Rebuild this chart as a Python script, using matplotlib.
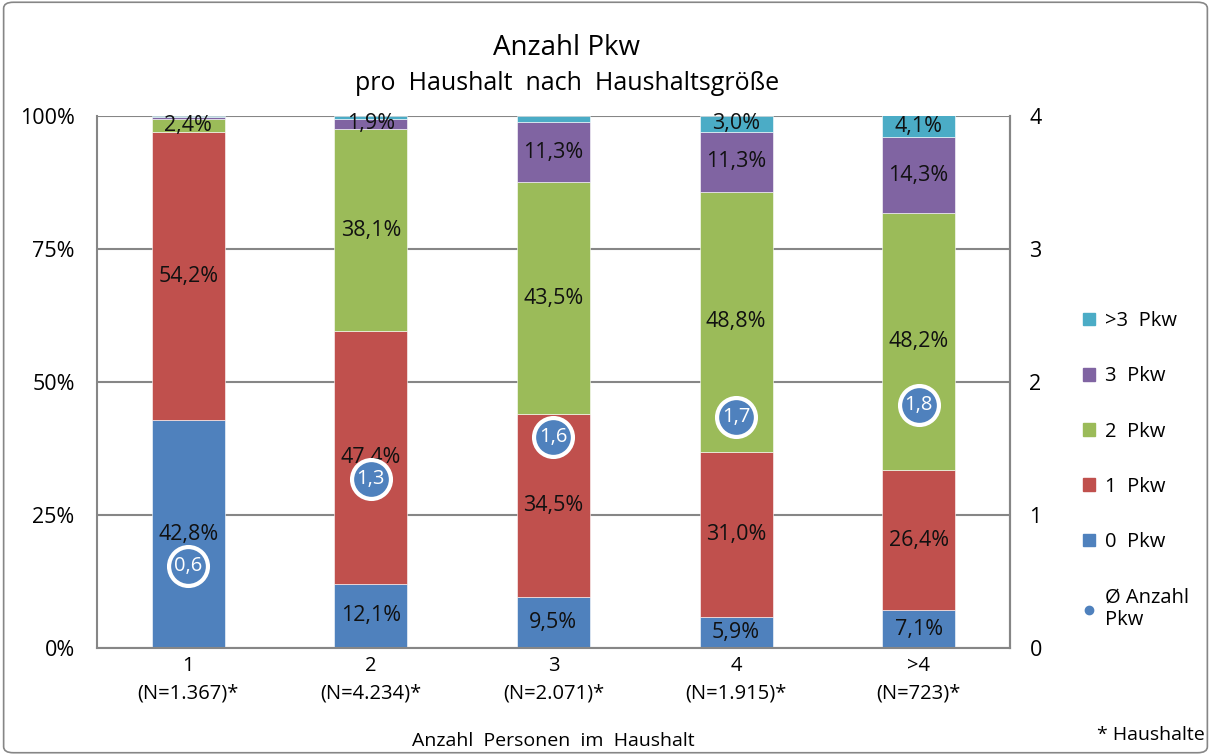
import matplotlib.pyplot as plt
import matplotlib.patches as mpatches
from matplotlib.lines import Line2D
from matplotlib.patches import FancyBboxPatch
import numpy as np

plt.rcParams['font.family'] = ['Open Sans', 'DejaVu Sans']

kategorien = ['1\n(N=1.367)*', '2\n(N=4.234)*', '3\n(N=2.071)*', '4\n(N=1.915)*', '>4\n(N=723)*']
pkw_0 = [42.8, 12.1, 9.5, 5.9, 7.1]
pkw_1 = [54.2, 47.4, 34.5, 31.0, 26.4]
pkw_2 = [2.4, 38.1, 43.5, 48.8, 48.2]
pkw_3 = [0.5, 1.9, 11.3, 11.3, 14.3]
pkw_mehr = [0.1, 0.5, 1.2, 3.0, 4.1]
mittel = [0.62, 1.27, 1.59, 1.74, 1.83]

serien = [('0  Pkw', pkw_0, '#4F81BD'),
          ('1  Pkw', pkw_1, '#C0504D'),
          ('2  Pkw', pkw_2, '#9BBB59'),
          ('3  Pkw', pkw_3, '#8064A2'),
          ('>3  Pkw', pkw_mehr, '#4BACC6')]

fig = plt.figure(figsize=(12.11, 7.55), dpi=100)
ax = fig.add_axes([0.080, 0.1417, 0.754, 0.7047])

x = np.arange(len(kategorien))
unten = np.zeros(len(kategorien))
for name, werte, farbe in serien:
    werte = np.array(werte)
    ax.bar(x, werte, 0.4, bottom=unten, color=farbe, edgecolor='white', linewidth=0.4, zorder=2)
    for i, w in enumerate(werte):
        if w >= 1.5:
            ax.text(x[i], unten[i] + w / 2, f'{w:.1f}%'.replace('.', ','),
                    ha='center', va='center', fontsize=15.5, color='#111111', zorder=3)
    unten += werte

ax.set_ylim(0, 100)
ax.set_xlim(-0.5, 4.5)
ax.set_yticks([0, 25, 50, 75, 100])
ax.set_yticklabels(['0%', '25%', '50%', '75%', '100%'], fontsize=15.5)
ax.yaxis.grid(True, color='#868686', linewidth=1.5, zorder=0)
ax.set_axisbelow(True)
ax.tick_params(axis='y', length=0, pad=16)
ax.tick_params(axis='x', length=0, pad=6)
ax.set_xticks(x)
ax.set_xticklabels(kategorien, fontsize=14.5, linespacing=1.45)
ax.spines['top'].set_visible(False)
for s in ['left', 'bottom', 'right']:
    ax.spines[s].set_color('#868686')
    ax.spines[s].set_linewidth(1.5)

ax2 = ax.twinx()
ax2.set_ylim(0, 4)
ax2.set_yticks([0, 1, 2, 3, 4])
ax2.set_yticklabels(['0', '1', '2', '3', '4'], fontsize=15.5)
ax2.tick_params(axis='y', length=0, pad=14)
for s in ['top', 'left', 'bottom']:
    ax2.spines[s].set_visible(False)
ax2.spines['right'].set_color('#868686')
ax2.spines['right'].set_linewidth(1.5)
ax2.plot(x, mittel, 'o', markersize=28, markerfacecolor='#4F81BD',
         markeredgecolor='white', markeredgewidth=3, linestyle='none', zorder=5)
for i, m in enumerate(mittel):
    ax2.text(x[i], m, f'{m:.1f}'.replace('.', ','), ha='center', va='center',
             fontsize=14.5, color='white', zorder=6)

fig.text(0.468, 0.937, 'Anzahl Pkw', ha='center', va='center', fontsize=20)
fig.text(0.468, 0.890, 'pro  Haushalt  nach  Haushaltsgröße', ha='center', va='center', fontsize=18)
fig.text(0.457, 0.018, 'Anzahl  Personen  im  Haushalt', ha='center', va='center', fontsize=14)
fig.text(0.995, 0.026, '* Haushalte', ha='right', va='center', fontsize=14)

handles = [mpatches.Patch(color=f) for _, _, f in reversed(serien)]
labels = [n for n, _, _ in reversed(serien)]
handles.append(Line2D([], [], marker='o', color='#4F81BD', linestyle='none', markersize=6))
labels.append('Ø Anzahl\nPkw')
fig.legend(handles, labels, loc='upper left', bbox_to_anchor=(0.879, 0.612),
           frameon=False, fontsize=14.5, labelspacing=1.75, handlelength=0.6,
           handleheight=0.6, handletextpad=0.5)

rahmen = FancyBboxPatch((0.003, 0.003), 0.994, 0.994, boxstyle='round,pad=0,rounding_size=0.008',
                        transform=fig.transFigure, fill=False, edgecolor='#868686', linewidth=1.2)
fig.patches.append(rahmen)

fig.savefig('out.png', dpi=100)
